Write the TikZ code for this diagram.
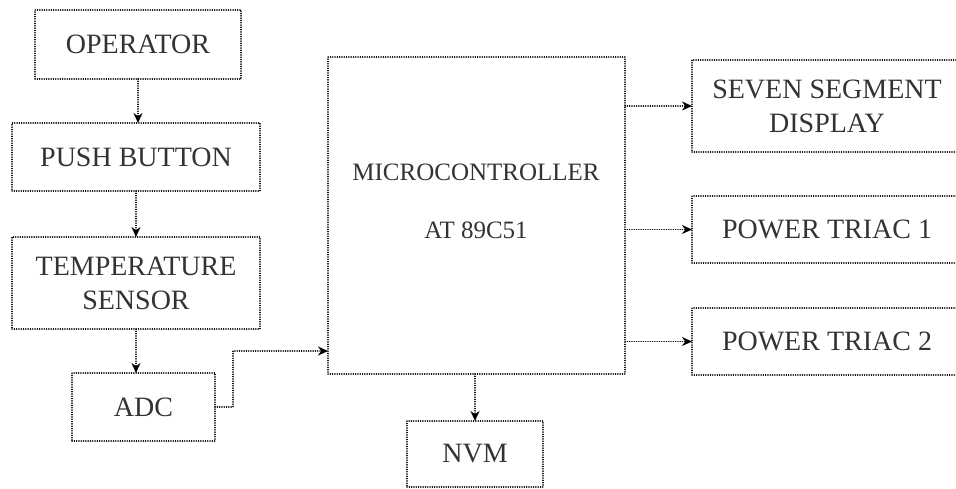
\documentclass[tikz,border=0pt]{standalone}
\usepackage{fontspec}
\setmainfont{Liberation Serif}
\usetikzlibrary{arrows.meta}
\begin{document}
\begin{tikzpicture}[x=1pt,y=-1pt,
  dotline/.style={line width=1.5pt, dash pattern=on 0.1pt off 2.2pt, line cap=round, black},
  blk/.style={dotline, draw, rectangle, inner sep=0pt, outer sep=0pt,
    font=\fontsize{28}{34}\selectfont, align=center, text=black!80},
  lbl/.style={inner sep=0pt, font=\fontsize{25}{30}\selectfont, text=black!80},
  arr/.style={dotline, -{Stealth[length=10pt,width=9pt]}}]
\useasboundingbox (0,0) rectangle (956,488);
\node[blk, minimum width=206pt, minimum height=69pt] (op) at (138,44.5) {OPERATOR};
\node[blk, minimum width=248pt, minimum height=68pt] (pb) at (136,157) {PUSH BUTTON};
\node[blk, minimum width=248pt, minimum height=92pt] (ts) at (136,283) {TEMPERATURE\\SENSOR};
\node[blk, minimum width=143pt, minimum height=68pt] (adc) at (143.5,407) {ADC};
\node[blk, minimum width=297pt, minimum height=317pt] (mcu) at (476.5,215.5) {};
\node[lbl] (mcut1) at (476,172) {MICROCONTROLLER};
\node[lbl] (mcut2) at (476,230) {AT 89C51};
\node[blk, minimum width=270pt, minimum height=92pt] (ssd) at (827,106) {SEVEN SEGMENT\\DISPLAY};
\node[blk, minimum width=270pt, minimum height=67pt] (t1) at (827,229.5) {POWER TRIAC 1};
\node[blk, minimum width=270pt, minimum height=67pt] (t2) at (827,341.5) {POWER TRIAC 2};
\node[blk, minimum width=136pt, minimum height=66pt] (nvm) at (475,454) {NVM};
\coordinate (mcuin) at ([yshift=23pt]mcu.south west);
\draw[arr] (op.south) -- (op.south |- pb.north);
\draw[arr] (pb.south) -- (ts.north);
\draw[arr] (ts.south) -- (ts.south |- adc.north);
\draw[arr] (adc.east) -- ++(18,0) |- (mcuin);
\draw[arr] (mcu.east |- ssd.west) -- (ssd.west);
\draw[arr] (mcu.east |- t1.west) -- (t1.west);
\draw[arr] (mcu.east |- t2.west) -- (t2.west);
\draw[arr] (mcu.south -| nvm.north) -- (nvm.north);
\end{tikzpicture}
\end{document}
